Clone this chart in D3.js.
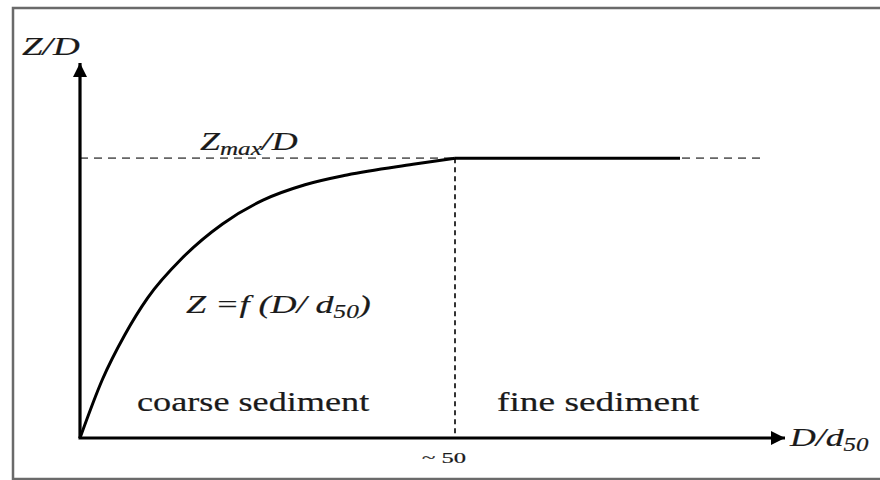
<!DOCTYPE html>
<html>
<head>
<meta charset="utf-8">
<script src="https://d3js.org/d3.v7.min.js"></script>
<style>
  body { margin: 0; background: #fff; }
</style>
</head>
<body>
<script>
// curve Z/D against D/d50 (Zmax/D = 1)
const ratio = [0, 3, 6, 9, 13.7, 19, 24.4, 30, 35.6, 44.4, 50];
const depth = [0, 0.21, 0.37, 0.5, 0.645, 0.765, 0.85, 0.905, 0.94, 0.978, 1];
const flatEnd = 80;       // solid plateau ends here
const xMax = 94, yMax = 1.34;
const dashEnd = 91;
const knee = 50;

const width = 880, height = 480;
const svg = d3.select('body').append('svg').attr('width', width).attr('height', height);

const x = d3.scaleLinear().domain([0, xMax]).range([80, 785]);
const y = d3.scaleLinear().domain([0, yMax]).range([438, 63]);

// frame
svg.append('rect')
  .attr('x', 13).attr('y', 8)
  .attr('width', 880).attr('height', 471)
  .attr('fill', 'none').attr('stroke', '#6a6a6a').attr('stroke-width', 2.5);

svg.append('defs').append('marker')
  .attr('id', 'arrow')
  .attr('viewBox', '0 0 10 10')
  .attr('refX', 10).attr('refY', 5)
  .attr('markerWidth', 4.5).attr('markerHeight', 4.5)
  .attr('markerUnits', 'strokeWidth')
  .attr('orient', 'auto')
  .append('path').attr('d', 'M0,0 L10,5 L0,10 Z').attr('fill', '#000');

// reference lines
svg.append('line')
  .attr('x1', x(0)).attr('x2', x(dashEnd))
  .attr('y1', y(1)).attr('y2', y(1))
  .attr('stroke', '#666').attr('stroke-width', 1.8)
  .attr('stroke-dasharray', '8,6');

svg.append('line')
  .attr('x1', x(knee)).attr('x2', x(knee))
  .attr('y1', y(1)).attr('y2', y(0))
  .attr('stroke', '#333').attr('stroke-width', 2)
  .attr('stroke-dasharray', '5,4');

// axes
svg.append('line')
  .attr('x1', x(0)).attr('y1', y(0))
  .attr('x2', x(0)).attr('y2', y(yMax))
  .attr('stroke', '#000').attr('stroke-width', 3.2)
  .attr('marker-end', 'url(#arrow)');

svg.append('line')
  .attr('x1', x(0) - 1.5).attr('y1', y(0))
  .attr('x2', x(xMax)).attr('y2', y(0))
  .attr('stroke', '#000').attr('stroke-width', 3.2)
  .attr('marker-end', 'url(#arrow)');

// curve + plateau
const pts = ratio.map((r, i) => [r, depth[i]]);
svg.append('path')
  .datum(pts)
  .attr('fill', 'none')
  .attr('stroke', '#000').attr('stroke-width', 3)
  .attr('d', d3.line().x(d => x(d[0])).y(d => y(d[1])).curve(d3.curveMonotoneX));

svg.append('line')
  .attr('x1', x(knee)).attr('x2', x(flatEnd))
  .attr('y1', y(1)).attr('y2', y(1))
  .attr('stroke', '#000').attr('stroke-width', 3);

// labels: the source picture is stretched sideways, so each label is
// scaled horizontally to the width it takes there
function label(px, py, w, size, italic, parts) {
  const g = svg.append('g');
  const t = g.append('text')
    .attr('font-family', 'Liberation Serif')
    .attr('font-size', size)
    .attr('font-style', italic ? 'italic' : 'normal')
    .attr('fill', '#1a1a1a')
    .attr('stroke', '#1a1a1a').attr('stroke-width', 0.2);
  parts.forEach(p => {
    const s = t.append('tspan').text(p[0]);
    if (p[1]) s.attr('font-size', size * 0.7).attr('dy', p[1]);
    if (p[2]) s.attr('dy', p[2]);
  });
  const bw = t.node().getBBox().width;
  g.attr('transform', `translate(${px},${py}) scale(${w / bw},1)`);
}

label(22, 55, 58, 26, true, [['Z/D']]);
label(200, 150, 98, 26, true, [['Z'], ['max', 5], ['/D', 0, -5]]);
label(186, 313, 185, 26, true, [['Z =f (D/ d'], ['50', 5], [')', 0, -5]]);
label(137, 411, 233, 27, false, [['coarse sediment']]);
label(497, 411, 203, 27, false, [['fine sediment']]);
label(422, 463, 44, 15, false, [['~ 50']]);
label(790, 446, 80, 26, true, [['D/d'], ['50', 5]]);
</script>
</body>
</html>
